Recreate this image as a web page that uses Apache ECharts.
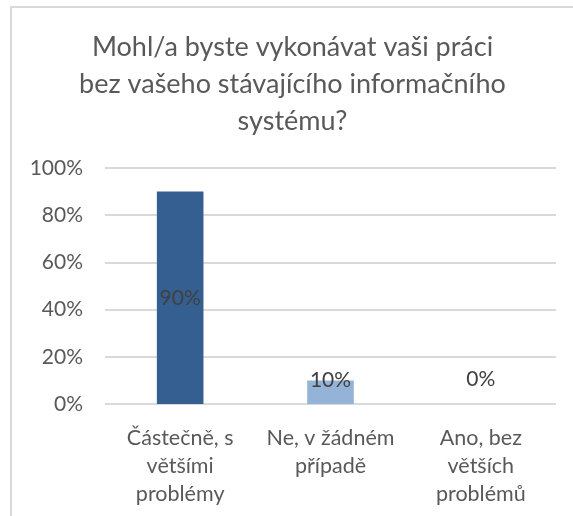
<!DOCTYPE html>
<html>
<head>
    <meta charset="UTF-8">
    <title>Informační systém</title>
    <style>
        html, body {margin:0; padding:0; background:#fff;}
        #main {position:absolute; left:10px; top:6px; width:561px; height:508px;
               border-top:2px solid #d9d9d9; border-left:2px solid #d9d9d9; border-right:0; border-bottom:0;}
    </style>
</head>
<body>
<div id="main"></div>
<script src="https://cdn.jsdelivr.net/npm/echarts@6/dist/echarts.min.js"></script>
<script>
    var titleText = 'Mohl/a byste vykonávat vaši práci\nbez vašeho stávajícího informačního\nsystému?';
    var categories = ['Částečně, s\nvětšími\nproblémy', 'Ne, v žádném\npřípadě', 'Ano, bez\nvětších\nproblémů'];
    var values = [90, 10, 0];
    var barColors = ['#365f91', '#95b3d7', '#95b3d7'];
    var labelPos = ['inside', 'top', 'top'];
    var labelDist = [0, -10, 14];

    var font = 'Lato, "Open Sans", sans-serif';
    var myChart = echarts.init(document.getElementById('main'));

    var data = values.map(function (v, i) {
        return {
            value: v,
            itemStyle: {color: barColors[i]},
            label: {position: labelPos[i], distance: labelDist[i]}
        };
    });

    var option = {
        backgroundColor: '#fff',
        animation: false,
        title: {
            text: titleText,
            left: 'center',
            top: 16,
            textStyle: {
                color: '#595959',
                fontFamily: font,
                fontWeight: 'normal',
                fontSize: 27,
                lineHeight: 37
            }
        },
        grid: {left: 93, right: 17, top: 160, bottom: 112},
        xAxis: {
            type: 'category',
            data: categories,
            axisLine: {show: false},
            axisTick: {show: false},
            axisLabel: {
                color: '#595959',
                fontFamily: font,
                fontSize: 21.5,
                lineHeight: 28,
                margin: 20,
                interval: 0
            }
        },
        yAxis: {
            type: 'value',
            min: 0,
            max: 100,
            interval: 20,
            axisLine: {show: false},
            axisTick: {show: false},
            axisLabel: {
                color: '#595959',
                fontFamily: font,
                fontSize: 21,
                margin: 22,
                formatter: '{value}%'
            },
            splitLine: {lineStyle: {color: '#d9d9d9', width: 2}}
        },
        series: [{
            type: 'bar',
            data: data,
            barWidth: '31%',
            label: {
                show: true,
                color: '#404040',
                fontFamily: font,
                fontSize: 21,
                formatter: '{c}%'
            }
        }]
    };
    myChart.setOption(option);
</script>
</body>
</html>
